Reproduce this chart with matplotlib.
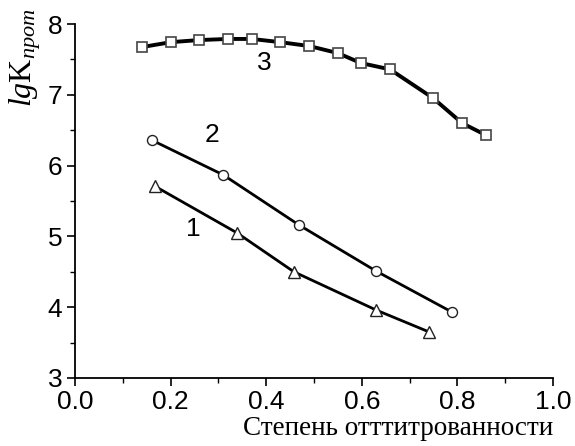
import numpy as np
import matplotlib.pyplot as plt
from matplotlib.ticker import MultipleLocator

plt.rcParams['mathtext.fontset'] = 'custom'
plt.rcParams['mathtext.rm'] = 'Liberation Serif'
plt.rcParams['mathtext.it'] = 'Liberation Serif:italic'

# Curve 1 (triangles)
x1 = [0.167, 0.339, 0.458, 0.630, 0.741]
y1 = [5.71, 5.05, 4.50, 3.96, 3.65]

# Curve 2 (circles)
x2 = [0.161, 0.310, 0.469, 0.630, 0.789]
y2 = [6.36, 5.87, 5.16, 4.51, 3.93]

# Curve 3 (squares)
x3 = [0.140, 0.201, 0.259, 0.320, 0.370, 0.429, 0.490, 0.550, 0.598, 0.659, 0.749, 0.810, 0.860]
y3 = [7.675, 7.745, 7.774, 7.79, 7.79, 7.745, 7.69, 7.59, 7.45, 7.36, 6.955, 6.60, 6.43]

curve_labels = ["1", "2", "3"]
label_pos = [(0.247, 5.10), (0.287, 6.43), (0.397, 7.45)]

fig = plt.figure(figsize=(5.75, 4.46), dpi=100)
ax = fig.add_axes([0.1304, 0.1525, 0.8313, 0.7935])

ax.plot(x1, y1, color="black", linewidth=2.0, marker="^", markersize=8.6,
        markerfacecolor="white", markeredgecolor="#222222", markeredgewidth=1.0)
ax.plot(x2, y2, color="black", linewidth=2.0, marker="o", markersize=7.2,
        markerfacecolor="white", markeredgecolor="#222222", markeredgewidth=1.0)
ax.plot(x3, y3, color="black", linewidth=2.8, marker="s", markersize=6.6,
        markerfacecolor="white", markeredgecolor="#444444", markeredgewidth=1.2)

for lab, (lx, ly) in zip(curve_labels, label_pos):
    ax.text(lx, ly, lab, fontsize=19, family="Liberation Sans", ha="center", va="center")

ax.set_xlim(0, 1.0)
ax.set_ylim(3, 8)
ax.xaxis.set_major_locator(MultipleLocator(0.2))
ax.xaxis.set_minor_locator(MultipleLocator(0.1))
ax.yaxis.set_major_locator(MultipleLocator(1))
ax.yaxis.set_minor_locator(MultipleLocator(0.5))

for side in ("top", "right"):
    ax.spines[side].set_visible(False)
for side in ("left", "bottom"):
    ax.spines[side].set_linewidth(1.3)

ax.tick_params(which="major", direction="out", length=6, width=1.2, labelsize=19, pad=3)
ax.tick_params(which="minor", direction="out", length=3.5, width=1.0)
for t in ax.get_xticklabels() + ax.get_yticklabels():
    t.set_family("Liberation Sans")

ax.xaxis.set_major_formatter(plt.FormatStrFormatter("%.1f"))

fig.text(0.962, 0.012, "Степень отттитрованности", family="Liberation Serif",
         fontsize=19.5, ha="right", va="bottom")
fig.text(0.043, 0.872, r"$\mathit{lg}\mathrm{K}_{\mathit{прот}}$", fontsize=23,
         rotation=90, ha="center", va="center")

fig.savefig("out.png", dpi=100)
